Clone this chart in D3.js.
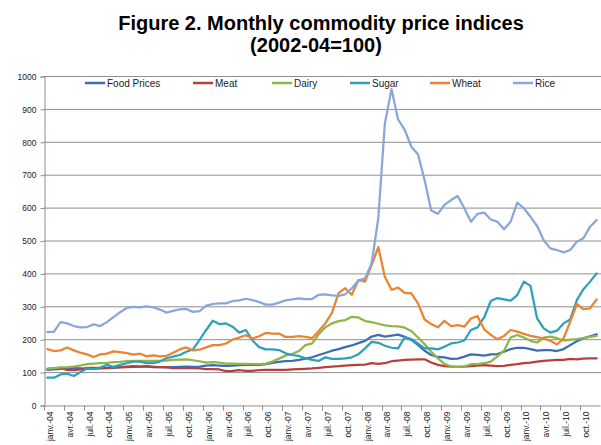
<!DOCTYPE html>
<html><head><meta charset="utf-8">
<script src="https://cdnjs.cloudflare.com/ajax/libs/d3/7.8.5/d3.min.js"></script>
<style>
body{margin:0;background:#fff;}
svg{display:block;}
</style></head>
<body><svg id="chart" width="601" height="445"></svg>
<script>
const monthNames = ["janv.","févr.","mars","avr.","mai","juin","juil.","août","sept.","oct.","nov.","déc."];
const years = ["04","05","06","07","08","09","10"];
const categories = years.flatMap(y => monthNames.map(m => m + "-" + y));
const tickLabels = ["janv.-04","avr.-04","juil.-04","oct.-04","janv.-05","avr.-05","juil.-05","oct.-05",
 "janv.-06","avr.-06","juil.-06","oct.-06","janv.-07","avr.-07","juil.-07","oct.-07",
 "janv.-08","avr.-08","juil.-08","oct.-08","janv.-09","avr.-09","juil.-09","oct.-09",
 "janv.-10","avr.-10","juil.-10","oct.-10"];
const yTicks = [0,100,200,300,400,500,600,700,800,900,1000];
const seriesNames = ["Food Prices","Meat","Dairy","Sugar","Wheat","Rice"];

const foodPrices = [107,108,110,112,112,111,110,110,111,112,113,115,117,118,117,117,116,115,114,115,116,117,116,117,
 120,121,120,119,120,121,122,122,122,124,128,131,133,134,137,141,145,152,158,165,170,176,181,188,
 195,208,213,208,211,214,207,198,183,165,152,146,145,140,141,147,154,152,150,154,155,162,170,174,
 174,170,165,167,167,164,170,182,194,203,209,215];
const meat = [110,111,113,107,106,108,113,113,113,113,114,114,115,116,117,118,115,115,115,112,112,112,112,111,
 109,109,108,103,104,106,104,104,106,107,107,107,107,108,109,110,111,113,115,117,118,120,121,122,
 123,127,125,127,133,135,137,138,139,139,129,122,118,117,116,117,118,120,121,120,118,119,122,124,
 127,129,132,134,136,137,137,140,139,141,142,142];
const dairy = [110,112,114,115,117,120,124,126,127,128,130,131,133,134,134,134,134,134,135,137,138,139,136,133,
 129,130,129,126,126,125,125,124,124,126,132,141,150,155,164,182,187,215,236,248,255,258,268,266,
 255,252,247,242,240,239,235,225,205,185,162,142,125,117,116,117,124,124,127,132,148,165,205,213,
 205,195,190,205,208,203,196,199,200,203,207,210];
const sugar = [83,83,93,95,88,100,111,109,114,122,116,122,127,132,132,127,127,132,142,147,152,162,169,198,
 228,256,246,248,238,220,228,196,176,169,169,167,157,152,149,142,137,134,145,140,140,142,145,154,
 172,192,189,180,174,172,206,200,187,172,172,169,177,187,190,196,228,236,266,316,325,321,317,334,
 375,362,263,233,220,226,248,260,319,352,375,400];
const wheat = [170,164,166,175,166,159,154,146,154,156,163,161,158,153,156,148,151,148,149,159,169,175,166,168,
 175,182,182,187,199,205,212,202,209,219,217,217,207,207,209,207,203,225,248,280,340,355,335,380,
 375,425,480,390,350,357,341,339,309,260,246,236,256,240,243,238,263,270,230,213,200,210,228,223,
 216,210,206,202,195,184,203,253,307,291,294,321];
const rice = [222,222,252,248,240,236,237,245,240,252,267,282,295,298,297,300,297,290,281,286,291,292,283,285,
 302,307,309,309,316,318,323,319,313,305,305,311,318,321,324,322,322,335,336,333,332,336,355,378,
 385,430,567,856,960,868,836,785,762,684,591,581,608,623,635,598,557,581,585,564,557,534,557,615,
 598,572,544,501,476,471,464,471,496,507,542,562];

const seriesValues = [foodPrices, meat, dairy, sugar, wheat, rice];
const colors = ["#3D6DB3","#B8403C","#8DB548","#2F9FBC","#EA8431","#88A7D8"];

const svg = d3.select("#chart");
const plotLeft = 44, plotRight = 600, plotTop = 76, plotBottom = 405;

const x = d3.scaleBand().domain(categories).range([plotLeft, plotRight]).padding(0);
const y = d3.scaleLinear().domain([0, 1000]).range([plotBottom, plotTop]);
const cx = d => x(d) + x.bandwidth() / 2;

// Title
const title = svg.append("text").attr("text-anchor", "middle")
  .attr("font-family", "Liberation Sans, Arial, sans-serif").attr("font-weight", "bold")
  .attr("font-size", 20).attr("fill", "#000");
title.append("tspan").attr("x", 321).attr("y", 30).text("Figure 2. Monthly commodity price indices");
title.append("tspan").attr("x", 316).attr("y", 52).text("(2002-04=100)");

// Gridlines
svg.append("g").selectAll("line").data(yTicks.filter(v => v > 0)).join("line")
  .attr("x1", plotLeft).attr("x2", 601).attr("y1", d => y(d) + 0.5).attr("y2", d => y(d) + 0.5)
  .attr("stroke", "#8e8e8e").attr("stroke-width", 1);

// Y axis
const yAxis = d3.axisLeft(y).tickValues(yTicks).tickSize(4).tickPadding(4).tickFormat(d3.format("d"));
const gy = svg.append("g").attr("transform", `translate(${plotLeft + 0.5},0.5)`).call(yAxis);
gy.select(".domain").attr("stroke", "#8e8e8e");
gy.selectAll(".tick line").attr("stroke", "#8e8e8e");
gy.selectAll("text").attr("font-family", "Liberation Sans, Arial, sans-serif").attr("font-size", 8.5).attr("fill", "#222");

// X axis
const xAxis = d3.axisBottom(x).tickValues([]).tickSize(0);
const gx = svg.append("g").attr("transform", `translate(0,${plotBottom + 0.5})`).call(xAxis);
gx.select(".domain").attr("stroke", "#8e8e8e");
const boundaryCats = categories.filter((c, i) => i % 3 === 0);
gx.append("g").selectAll("line").data(boundaryCats).join("line")
  .attr("x1", d => Math.round(x(d)) + 0.5).attr("x2", d => Math.round(x(d)) + 0.5)
  .attr("y1", 0).attr("y2", 5).attr("stroke", "#8e8e8e");
gx.append("g").selectAll("text").data(tickLabels).join("text")
  .attr("transform", d => `translate(${cx(d) + 2.5},${6}) rotate(-90)`)
  .attr("text-anchor", "end").attr("dy", "0.35em")
  .attr("font-family", "Liberation Sans, Arial, sans-serif").attr("font-size", 8.5).attr("fill", "#222")
  .text(d => d);

// Lines
const line = d3.line().x((d, i) => cx(categories[i])).y(d => y(d));
svg.append("g").selectAll("path").data(seriesValues).join("path")
  .attr("d", d => line(d)).attr("fill", "none")
  .attr("stroke", (d, i) => colors[i]).attr("stroke-width", 2.25)
  .attr("stroke-linejoin", "round").attr("stroke-linecap", "round");

// Legend
const legendX = [85, 193, 272, 350, 430, 513];
const lg = svg.append("g").selectAll("g").data(seriesNames).join("g")
  .attr("transform", (d, i) => `translate(${legendX[i]},83)`);
lg.append("line").attr("x1", 0).attr("x2", 20).attr("y1", 0).attr("y2", 0)
  .attr("stroke", (d, i) => colors[i]).attr("stroke-width", 2.5);
lg.append("text").attr("x", 22).attr("dy", "0.35em")
  .attr("font-family", "Liberation Sans, Arial, sans-serif").attr("font-size", 10).attr("fill", "#222")
  .text(d => d);
</script></body></html>
